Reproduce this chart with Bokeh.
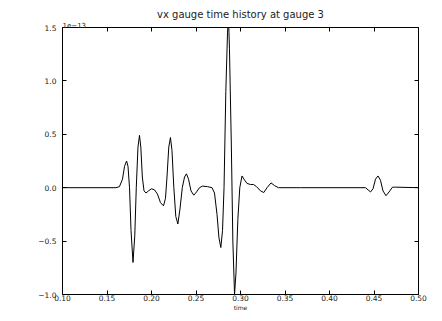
from bokeh.plotting import figure
from bokeh.models import Range1d, LinearAxis, FixedTicker, CustomJSTickFormatter, Title
from bokeh.embed import file_html
from bokeh.resources import INLINE

# Time (s)
time = [0.100, 0.160, 0.164, 0.1674, 0.1697, 0.172, 0.1736, 0.1753, 0.177, 0.1792,
        0.1812, 0.1829, 0.1848, 0.1865, 0.188, 0.1897, 0.1916, 0.1938, 0.1966, 0.200,
        0.2034, 0.2067, 0.2101, 0.2135, 0.2157, 0.2174, 0.2194, 0.2213, 0.223, 0.2251,
        0.2273, 0.2296, 0.232, 0.2346, 0.2371, 0.2393, 0.2416, 0.2444, 0.2475, 0.2506,
        0.2539, 0.2573, 0.2629, 0.268, 0.2708, 0.2736, 0.2758, 0.2779, 0.2798, 0.2815,
        0.2835, 0.2854, 0.2865, 0.2876, 0.2897, 0.2914, 0.2933, 0.2949, 0.297, 0.2992,
        0.3017, 0.3039, 0.3073, 0.3112, 0.3146, 0.318, 0.3225, 0.3262, 0.3298, 0.3343,
        0.3382, 0.3427, 0.3674, 0.4404, 0.4433, 0.4461, 0.4489, 0.4517, 0.4545, 0.4573,
        0.4601, 0.4635, 0.4669, 0.4708, 0.4742, 0.500]
# vx gauge value in units of 1e-13
vx = [0.0, 0.0, 0.01, 0.08, 0.20, 0.25, 0.20, 0.0, -0.40, -0.70,
      -0.45, 0.0, 0.38, 0.49, 0.38, 0.10, -0.03, -0.05, -0.03, -0.01,
      -0.02, -0.06, -0.14, -0.17, -0.10, 0.10, 0.38, 0.47, 0.35, 0.0,
      -0.27, -0.34, -0.20, 0.0, 0.10, 0.13, 0.08, -0.03, -0.07, -0.04,
      0.0, 0.015, 0.01, 0.0, -0.05, -0.25, -0.47, -0.56, -0.40, 0.0,
      0.90, 1.45, 1.60, 1.30, 0.40, -0.50, -1.00, -0.80, -0.30, 0.0,
      0.11, 0.08, 0.04, 0.03, 0.03, 0.01, -0.03, -0.045, 0.0, 0.045,
      0.02, 0.0, 0.0, 0.0, -0.02, -0.04, -0.01, 0.08, 0.11, 0.07,
      -0.03, -0.075, -0.04, 0.005, 0.005, 0.0]

x_ticks = [0.10, 0.15, 0.20, 0.25, 0.30, 0.35, 0.40, 0.45, 0.50]
y_ticks = [-1.0, -0.5, 0.0, 0.5, 1.0, 1.5]
title_text = "vx gauge time history at gauge 3"
x_label = "time"
offset_text = "1e\u221213"

FONT = "DejaVu Sans"
TXT = "#222222"

p = figure(width=434, height=313, output_backend="svg", toolbar_location=None,
           x_range=Range1d(0.10, 0.50), y_range=Range1d(-1.0, 1.5),
           min_border_left=62, min_border_right=16, min_border_top=27,
           min_border_bottom=13, x_axis_location="below", y_axis_location="left")
p.title.text = title_text
p.title.align = "center"
p.title.text_font = FONT
p.title.text_font_size = "10px"
p.title.text_font_style = "normal"
p.title.text_color = TXT
p.title.offset = 0
p.title.standoff = 0

p.grid.visible = False
p.outline_line_color = "black"
p.outline_line_width = 1
p.background_fill_color = "white"
p.border_fill_color = "white"

fmt = CustomJSTickFormatter(code="return (tick < 0 ? '\u2212' : '') + Math.abs(tick).toFixed(1);")
fmt_x = CustomJSTickFormatter(code="return tick.toFixed(2);")
blank = CustomJSTickFormatter(code="return '';")

for ax in p.xaxis:
    ax.ticker = FixedTicker(ticks=x_ticks)
    ax.formatter = fmt_x
    ax.major_label_standoff = 0
    ax.axis_label = x_label
    ax.axis_label_text_font = FONT
    ax.axis_label_text_font_size = "6px"
    ax.axis_label_text_font_style = "normal"
    ax.axis_label_text_color = TXT
    ax.axis_label_standoff = 0

for ax in p.yaxis:
    ax.ticker = FixedTicker(ticks=y_ticks)
    ax.formatter = fmt
    ax.major_label_standoff = 6

for ax in list(p.xaxis) + list(p.yaxis):
    ax.major_tick_in = 4
    ax.major_tick_out = 0
    ax.minor_tick_in = 0
    ax.minor_tick_out = 0
    ax.axis_line_color = None
    ax.major_tick_line_color = "black"
    ax.major_label_text_font = FONT
    ax.major_label_text_font_size = "7.5px"
    ax.major_label_text_color = TXT

top = LinearAxis(ticker=FixedTicker(ticks=x_ticks), formatter=blank,
                 major_tick_in=4, major_tick_out=0, minor_tick_in=0, minor_tick_out=0,
                 axis_line_color=None, major_label_standoff=0, major_label_text_font_size="1px")
right = LinearAxis(ticker=FixedTicker(ticks=y_ticks), formatter=blank,
                   major_tick_in=4, major_tick_out=0, minor_tick_in=0, minor_tick_out=0,
                   axis_line_color=None, major_label_standoff=0, major_label_text_font_size="1px")
p.add_layout(top, "above")
p.add_layout(right, "right")

p.add_layout(Title(text=offset_text, align="left", text_font=FONT, text_font_size="7px",
                   text_font_style="normal", text_color=TXT, offset=0, standoff=0), "above")

p.line(time, vx, line_color="black", line_width=1)

open("out.html", "w").write(file_html(p, INLINE))
